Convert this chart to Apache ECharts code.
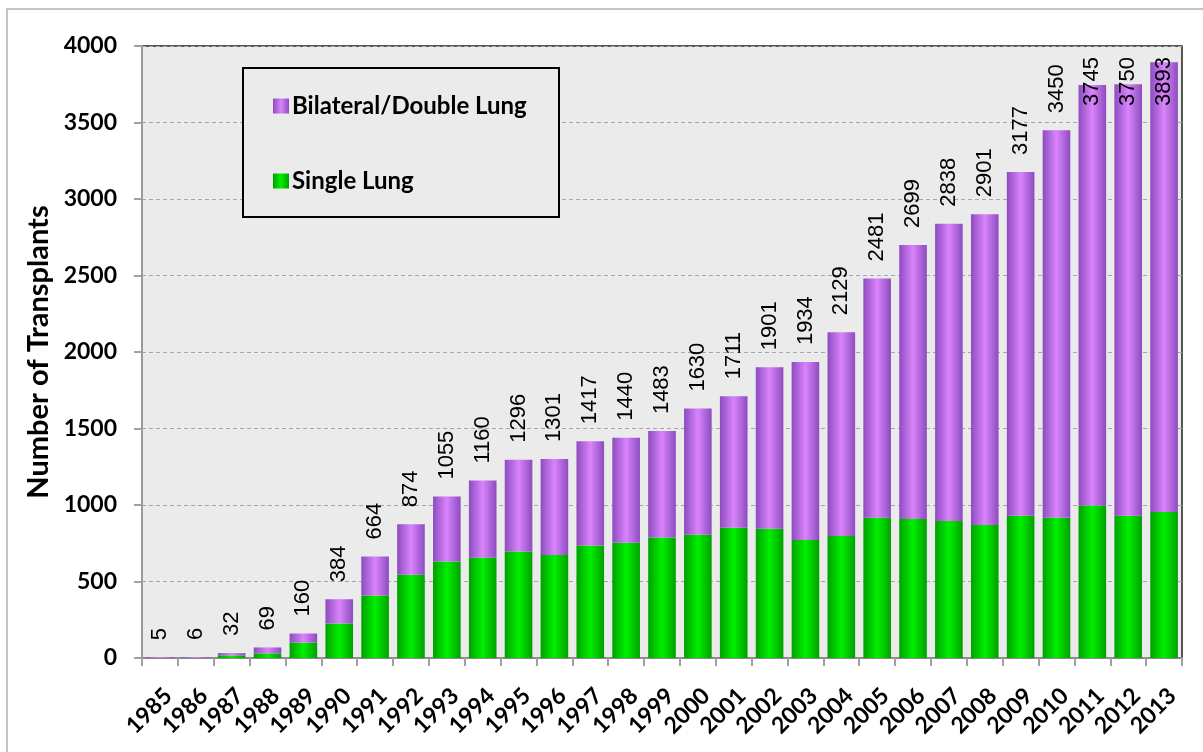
<!DOCTYPE html>
<html>
<head>
<meta charset="utf-8">
<script src="https://cdn.jsdelivr.net/npm/echarts@6/dist/echarts.min.js"></script>
<style>
  html, body { margin: 0; padding: 0; background: #fff; }
  #chart { width: 1203px; height: 752px; }
</style>
</head>
<body>
<div id="chart"></div>
<script>
// 年份
const years = ['1985', '1986', '1987', '1988', '1989', '1990', '1991', '1992', '1993', '1994',
  '1995', '1996', '1997', '1998', '1999', '2000', '2001', '2002', '2003', '2004',
  '2005', '2006', '2007', '2008', '2009', '2010', '2011', '2012', '2013'];
// 总数 (柱顶标签)
const totals = [5, 6, 32, 69, 160, 384, 664, 874, 1055, 1160,
  1296, 1301, 1417, 1440, 1483, 1630, 1711, 1901, 1934, 2129,
  2481, 2699, 2838, 2901, 3177, 3450, 3745, 3750, 3893];
// 单肺
const singleLung = [0, 1, 17, 30, 100, 226, 408, 544, 630, 656,
  696, 674, 735, 753, 787, 805, 852, 844, 772, 798,
  917, 909, 896, 870, 929, 917, 996, 929, 955];
// 双肺 = 总数 - 单肺
const doubleLung = totals.map((t, i) => t - singleLung[i]);

const yTicks = { min: 0, max: 4000, interval: 500 };

const GRID_TOP = 46;

function barGradient(edge, mid) {
  return new echarts.graphic.LinearGradient(0, 0, 1, 0, [
    { offset: 0, color: edge },
    { offset: 0.5, color: mid },
    { offset: 1, color: edge }
  ]);
}

const chart = echarts.init(document.getElementById('chart'));

const option = {
  animation: false,
  grid: {
    left: 142,
    right: 21,
    top: GRID_TOP,
    bottom: 94,
    show: true,
    backgroundColor: '#ebebeb',
    borderColor: '#222',
    borderWidth: 1.5
  },
  legend: {
    orient: 'vertical',
    left: 273,
    top: 94,
    padding: 0,
    itemWidth: 16,
    itemHeight: 15,
    itemGap: 51,
    icon: 'rect',
    data: ['Bilateral/Double Lung', 'Single Lung'],
    textStyle: {
      fontFamily: 'Lato',
      fontWeight: 'bold',
      fontSize: 24,
      lineHeight: 24,
      color: '#000',
      padding: [0, 0, 0, -2]
    },
    z: 5
  },
  graphic: [
    {
      type: 'rect',
      z: -10,
      shape: { x: 7, y: 9, width: 1220, height: 780 },
      style: { fill: 'none', stroke: '#c4c4c4', lineWidth: 2 }
    },
    {
      type: 'rect',
      z: 3,
      shape: { x: 243, y: 68, width: 316, height: 149 },
      style: { fill: '#ebebeb', stroke: '#000', lineWidth: 2 }
    }
  ],
  xAxis: {
    type: 'category',
    data: years,
    axisLine: { lineStyle: { color: '#8c8c8c', width: 2 } },
    axisTick: { show: true, length: 8, lineStyle: { color: '#a0a0a0', width: 2 } },
    axisLabel: {
      interval: 0,
      rotate: 45,
      margin: 26,
      align: 'right',
      verticalAlign: 'top',
      fontFamily: 'Lato',
      fontWeight: 'bold',
      fontSize: 23,
      color: '#000'
    }
  },
  yAxis: {
    type: 'value',
    min: yTicks.min,
    max: yTicks.max,
    interval: yTicks.interval,
    name: 'Number of Transplants',
    nameLocation: 'middle',
    nameGap: 80,
    nameRotate: 90,
    nameTextStyle: {
      fontFamily: 'Lato',
      fontWeight: 'bold',
      fontSize: 29,
      color: '#000'
    },
    axisLine: { show: true, lineStyle: { color: '#9a9a9a', width: 2 } },
    axisTick: { show: true, length: 8, lineStyle: { color: '#a0a0a0', width: 2 } },
    axisLabel: {
      margin: 25,
      fontFamily: 'Lato',
      fontWeight: 'bold',
      fontSize: 23,
      color: '#000',
      formatter: v => String(v)
    },
    splitLine: { lineStyle: { color: '#a6a6a6', type: [4, 3], width: 1 } }
  },
  series: [
    {
      name: 'Single Lung',
      type: 'bar',
      stack: 'lung',
      barWidth: '77%',
      data: singleLung,
      itemStyle: { color: barGradient('#00a000', '#00f000') }
    },
    {
      name: 'Bilateral/Double Lung',
      type: 'bar',
      stack: 'lung',
      barWidth: '77%',
      data: doubleLung,
      itemStyle: { color: barGradient('#8c4cc0', '#da84fb') },
      label: {
        show: true,
        position: 'top',
        distance: 17,
        rotate: 90,
        align: 'left',
        verticalAlign: 'middle',
        fontFamily: 'Liberation Sans',
        fontSize: 22,
        color: '#000',
        formatter: p => String(totals[p.dataIndex])
      },
      // 超出顶部的标签往下挪
      labelLayout: function (p) {
        const r = p.labelRect;
        const shift = Math.max(0, GRID_TOP + 11 - r.y);
        if (!shift) return {};
        return { y: r.y + r.height + shift, x: r.x + r.width / 2 };
      }
    }
  ]
};

chart.setOption(option);
</script>
</body>
</html>
